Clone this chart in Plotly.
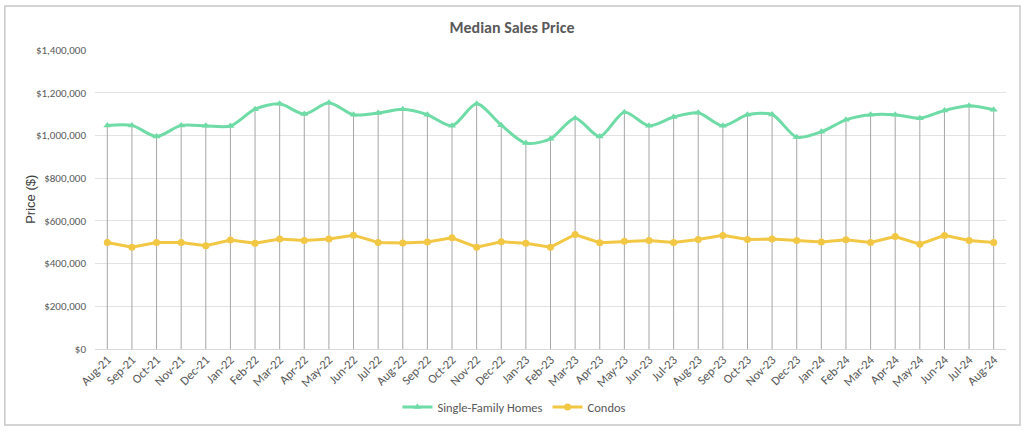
import plotly.graph_objects as go

months = [
    "Aug-21", "Sep-21", "Oct-21", "Nov-21", "Dec-21", "Jan-22", "Feb-22", "Mar-22",
    "Apr-22", "May-22", "Jun-22", "Jul-22", "Aug-22", "Sep-22", "Oct-22", "Nov-22",
    "Dec-22", "Jan-23", "Feb-23", "Mar-23", "Apr-23", "May-23", "Jun-23", "Jul-23",
    "Aug-23", "Sep-23", "Oct-23", "Nov-23", "Dec-23", "Jan-24", "Feb-24", "Mar-24",
    "Apr-24", "May-24", "Jun-24", "Jul-24", "Aug-24",
]

single_family = [
    1047000, 1047000, 995000, 1047000, 1045000, 1044000, 1123000, 1148000,
    1100000, 1153000, 1097000, 1105000, 1122000, 1097000, 1045000, 1148000,
    1048000, 964000, 984000, 1081000, 995000, 1109000, 1045000, 1086000,
    1106000, 1045000, 1097000, 1098000, 992000, 1017000, 1073000, 1097000,
    1097000, 1081000, 1117000, 1139000, 1120000,
]

condos = [
    499000, 476000, 499000, 499000, 484000, 510000, 495000, 515000,
    508000, 515000, 533000, 499000, 496000, 501000, 521000, 477000,
    502000, 495000, 477000, 536000, 498000, 504000, 508000, 499000,
    513000, 532000, 513000, 515000, 508000, 501000, 512000, 499000,
    527000, 491000, 532000, 508000, 499000,
]

y_ticks = [0, 200000, 400000, 600000, 800000, 1000000, 1200000, 1400000]
y_tick_labels = ["$0", "$200,000", "$400,000", "$600,000", "$800,000",
                 "$1,000,000", "$1,200,000", "$1,400,000"]

GREEN = "#6FDBA6"
YELLOW = "#F2C744"
TEXT = "#595959"
FONT = "Calibri, Carlito, Lato, sans-serif"

# drop lines from the higher series down to the axis
drop_x, drop_y = [], []
for m, v in zip(months, single_family):
    drop_x += [m, m, None]
    drop_y += [0, v, None]

fig = go.Figure()

fig.add_trace(go.Scatter(
    x=drop_x, y=drop_y, mode="lines",
    line=dict(color="#A6A6A6", width=1),
    showlegend=False, hoverinfo="skip",
))

fig.add_trace(go.Scatter(
    x=months, y=single_family, name="Single-Family Homes",
    mode="lines+markers",
    line=dict(color=GREEN, width=3, shape="spline", smoothing=0.8),
    marker=dict(symbol="triangle-up", size=7, color=GREEN),
))

fig.add_trace(go.Scatter(
    x=months, y=condos, name="Condos",
    mode="lines+markers",
    line=dict(color=YELLOW, width=3),
    marker=dict(symbol="circle", size=7, color=YELLOW),
))

fig.update_layout(
    width=1024, height=431,
    paper_bgcolor="white", plot_bgcolor="white",
    margin=dict(l=95, r=18, t=50, b=82, autoexpand=False),
    font=dict(family=FONT, size=11, color=TEXT),
    title=dict(
        text="<b>Median Sales Price</b>",
        x=0.5, xanchor="center", y=0.937, yanchor="middle",
        font=dict(family=FONT, size=16, color=TEXT),
    ),
    xaxis=dict(
        type="category", range=[-0.5, len(months) - 0.5],
        tickangle=-45, showgrid=False, automargin=False,
        showline=False, ticks="", zeroline=False,
        tickfont=dict(family=FONT, size=12.5, color=TEXT),
    ),
    yaxis=dict(
        range=[0, 1400000], tickvals=y_ticks, ticktext=y_tick_labels,
        showgrid=True, gridcolor="#E3E3E3", gridwidth=1, automargin=False,
        zeroline=True, zerolinecolor="#D9D9D9", zerolinewidth=1,
        showline=False, ticks="", ticklabelstandoff=8,
        tickfont=dict(family=FONT, size=11, color=TEXT),
    ),
    legend=dict(
        orientation="h", x=0.4604, xanchor="center", y=-0.195, yanchor="middle",
        font=dict(family=FONT, size=12.5, color=TEXT),
        itemwidth=30, tracegroupgap=0,
    ),
    annotations=[dict(
        text="Price ($)", textangle=-90, showarrow=False,
        xref="paper", yref="paper", x=-0.071, y=0.5,
        xanchor="center", yanchor="middle",
        font=dict(family="Liberation Sans, Arial, sans-serif", size=13, color="#404040"),
    )],
    shapes=[dict(
        type="rect", xref="paper", yref="paper",
        x0=-0.099, x1=1.0154, y0=-0.254, y1=1.147,
        line=dict(color="#C8C8C8", width=1.5), fillcolor="rgba(0,0,0,0)", layer="below",
    )],
)

fig.write_html("out.html", config={"displayModeBar": False},
               post_script="document.body.style.margin='0';")
